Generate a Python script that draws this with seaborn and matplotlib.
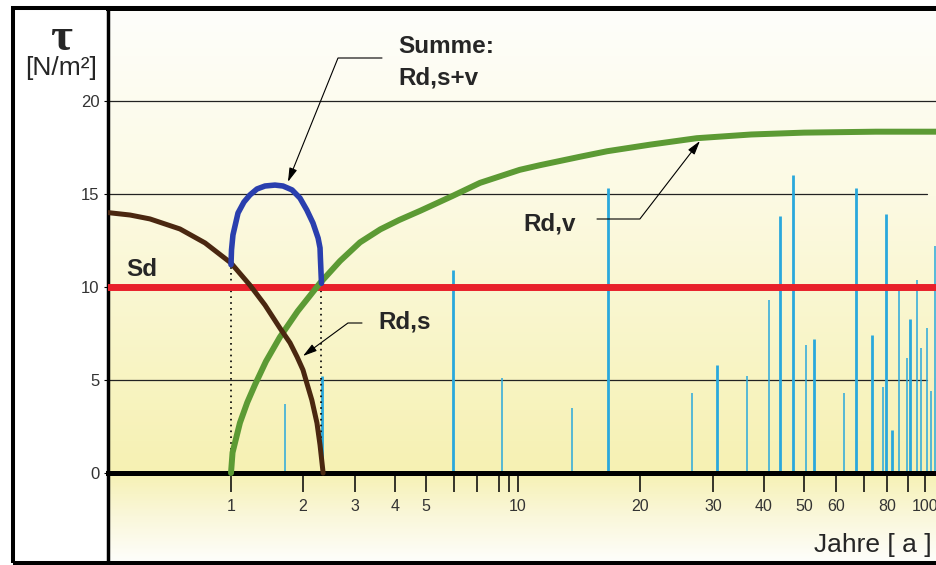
import numpy as np
import matplotlib
matplotlib.use("Agg")
import matplotlib.pyplot as plt
import seaborn as sns
from matplotlib.colors import LinearSegmentedColormap
from matplotlib.patches import Rectangle
from matplotlib.ticker import NullLocator

sns.set_theme(style="white")
plt.rcParams["font.family"] = ["Liberation Sans", "DejaVu Sans"]

# ── Data ────────────────────────────────────
# Rd,s (Schutzwald, nimmt ab)
rds_years = [0.373, 0.445, 0.522, 0.664, 0.812, 1.00, 1.20, 1.387, 1.60, 1.765,
             1.89, 2.00, 2.06, 2.143, 2.23, 2.284, 2.34]
rds_tau = [14.0, 13.87, 13.66, 13.12, 12.37, 11.29, 10.1, 9.03, 7.8, 7.0,
           6.24, 5.54, 4.84, 3.92, 2.69, 1.51, 0.0]

# Rd,v (Verbauung, nimmt zu)
rdv_years = [1.0, 1.015, 1.09, 1.17, 1.26, 1.4, 1.6, 1.9, 2.28, 2.67, 3.11, 3.6,
             4.12, 4.8, 5.95, 7.13, 10.1, 11.33, 14.2, 16.6, 21.1, 27.4, 37.2, 50, 75, 110]
rdv_tau = [0.0, 1.1, 2.7, 3.8, 4.75, 6.0, 7.3, 8.7, 10.2, 11.4, 12.4, 13.1,
           13.6, 14.1, 14.9, 15.6, 16.3, 16.55, 17.0, 17.3, 17.65, 18.0, 18.2, 18.3, 18.35, 18.35]

# Summe Rd,s+v
sum_years = [1.0, 1.005, 1.019, 1.07, 1.133, 1.20, 1.284, 1.387, 1.527, 1.65, 1.80,
             1.943, 2.06, 2.162, 2.25, 2.284, 2.29, 2.30, 2.31]
sum_tau = [11.2, 12.0, 12.8, 13.98, 14.57, 14.95, 15.27, 15.43, 15.48, 15.43, 15.22,
           14.78, 14.14, 13.44, 12.63, 12.1, 11.6, 10.9, 10.2]

# Sd
sd_tau = 10.0

# Ereignisse (starke / schwache)
event_years_big = [2.32, 5.95, 16.7, 30.7, 43.7, 47.0, 52.9, 67.0, 73.3, 79.5, 82.3, 91.1]
event_tau_big = [5.2, 10.9, 15.3, 5.8, 13.8, 16.0, 7.2, 15.3, 7.4, 13.9, 2.3, 8.3]
event_years_small = [1.68, 8.29, 13.6, 26.7, 36.3, 41.1, 50.6, 62.7, 78.2, 85.6, 89.5,
                     95.1, 97.5, 101.1, 103.5, 105.8]
event_tau_small = [3.7, 5.1, 3.5, 4.3, 5.2, 9.3, 6.9, 4.3, 4.6, 9.8, 6.2,
                   10.4, 6.7, 7.8, 4.4, 12.2]

x_ticks = [1, 2, 3, 4, 5, 6, 7, 8, 9, 10, 20, 30, 40, 50, 60, 70, 80, 90, 100]
x_tick_labels = ["1", "2", "3", "4", "5", "", "", "", "", "10",
                 "20", "30", "40", "50", "60", "", "80", "", "100"]
y_ticks = [0, 5, 10, 15, 20]

# ── Hand-drawn year axis (not a clean log axis) ──
AXIS_YEARS = [0.1] + x_ticks + [1000]
AXIS_POS = [-56, 231, 303, 355, 395, 426, 454, 477, 499, 509, 518,
            640, 713, 764, 804, 836, 864, 887, 908, 925, 1332]
AXIS_LOG = np.log10(AXIS_YEARS)


def fwd(x):
    return np.interp(np.log10(np.clip(np.asarray(x, dtype=float), 1e-6, None)), AXIS_LOG, AXIS_POS)


def inv(p):
    return 10 ** np.interp(np.asarray(p, dtype=float), AXIS_POS, AXIS_LOG)


# ── Colours ─────────────────────────────────
RED = "#e8202a"
GREEN = "#5c9a34"
BROWN = "#4a2710"
BLUE = "#2a3fae"
CYAN = "#2aa8dc"

W, H = 936, 565


def fpx(x, y):
    return x / W, 1 - y / H


fig = plt.figure(figsize=(W / 100, H / 100), dpi=100, facecolor="white")
rect = [108 / W, 4 / H, (W - 108) / W, 553 / H]

# background gradient
bg = fig.add_axes(rect, zorder=-1)
cmap = LinearSegmentedColormap.from_list("bg", [
    (0.0, "#fefefa"), (0.08, "#faf7da"), (0.159, "#f6f1b3"), (0.33, "#f8f4c2"),
    (0.5, "#faf7d3"), (0.66, "#fcfae3"), (0.83, "#fdfcef"), (1.0, "#fefefb")])
bg.imshow(np.linspace(0, 1, 256).reshape(-1, 1), origin="lower", extent=[0, 1, 0, 1],
          aspect="auto", cmap=cmap, vmin=0, vmax=1)
bg.axis("off")

ax = fig.add_axes(rect)
ax.set_facecolor("none")
ax.set_xscale("function", functions=(fwd, inv))
ax.set_xlim(inv(108), inv(936))
ax.set_ylim(-4.73, 25.0)

# grid lines
for level in [5, 10, 15, 20]:
    ax.axhline(level, xmax=1.0 if level == 20 else 0.989, color="#222222", lw=0.9, zorder=1)

# events
ax.vlines(event_years_small, 0, event_tau_small, color=CYAN, lw=1.1, zorder=2)
ax.vlines(event_years_big, 0, event_tau_big, color=CYAN, lw=2.0, zorder=2)

# dotted guides
ax.vlines([sum_years[0]], 0, sum_tau[0], colors="black", linestyles=(0, (1, 2.5)), lw=1.2, zorder=3)
ax.vlines([sum_years[-1]], 0, sum_tau[-1], colors="black", linestyles=(0, (1, 2.5)), lw=1.2, zorder=3)

ax.axhline(sd_tau, color=RED, lw=5, zorder=4)
sns.lineplot(x=rdv_years, y=rdv_tau, ax=ax, color=GREEN, linewidth=4.3,
             estimator=None, sort=False, zorder=5)
sns.lineplot(x=rds_years, y=rds_tau, ax=ax, color=BROWN, linewidth=3.6,
             estimator=None, sort=False, zorder=6)
sns.lineplot(x=sum_years, y=sum_tau, ax=ax, color=BLUE, linewidth=4.0,
             estimator=None, sort=False, zorder=7)

# ── Axes styling ────────────────────────────
ax.set_xticks(x_ticks, labels=x_tick_labels)
ax.xaxis.set_minor_locator(NullLocator())
ax.set_yticks(y_ticks)
ax.tick_params(axis="x", direction="out", length=13.5, width=1.1, pad=5.5,
               labelsize=11.5, labelcolor="#333333", color="black", bottom=True)
ax.tick_params(axis="y", direction="out", length=3, width=0.8, pad=3,
               labelsize=12, labelcolor="#333333", color="black", left=True)
ax.set_xlabel("")
ax.set_ylabel("")
ax.spines["bottom"].set_position(("data", 0))
ax.spines["bottom"].set_linewidth(3.6)
ax.spines["top"].set_linewidth(3.6)
ax.spines["left"].set_linewidth(2.5)
ax.spines["right"].set_visible(False)
for s in ["bottom", "top", "left"]:
    ax.spines[s].set_color("black")

# outer frame
fig.add_artist(Rectangle((13 / W, 2 / H), 1.2, 555 / H, transform=fig.transFigure,
                         fill=False, ec="black", lw=2.9, clip_on=False))

# ── Labels ──────────────────────────────────
fig.text(*fpx(61, 50), "τ", fontsize=34, fontweight="bold", family="Liberation Serif",
         ha="center", va="baseline")
fig.text(*fpx(61, 75), "[N/m²]", fontsize=19, ha="center", va="baseline")
bold = dict(fontsize=17.5, fontweight="bold", va="baseline", ha="left")
fig.text(*fpx(126, 276), "Sd", **bold)
fig.text(*fpx(398, 53), "Summe:", **bold)
fig.text(*fpx(398, 84), "Rd,s+v", **bold)
fig.text(*fpx(523, 230), "Rd,v", **bold)
fig.text(*fpx(378, 328), "Rd,s", **bold)
fig.text(*fpx(814, 552), "Jahre [ a ]", fontsize=19, ha="left", va="baseline")

arrow = dict(color="black", lw=0.8, shrinkA=0, shrinkB=0,
             arrowstyle="-|>,head_length=0.7,head_width=0.2")
ax.annotate("", xy=(1.73, 15.65), xytext=(382, H - 58), textcoords="figure pixels",
            arrowprops=dict(arrow, connectionstyle="angle,angleA=0,angleB=68,rad=0"))
ax.annotate("", xy=(27.9, 17.85), xytext=(597, H - 219), textcoords="figure pixels",
            arrowprops=dict(arrow, connectionstyle="angle,angleA=0,angleB=52.4,rad=0"))
ax.annotate("", xy=(2.0, 6.29), xytext=(362, H - 323), textcoords="figure pixels",
            arrowprops=dict(arrow, connectionstyle="angle,angleA=0,angleB=36.3,rad=0"))

fig.savefig("out.png", dpi=100, facecolor="white")
